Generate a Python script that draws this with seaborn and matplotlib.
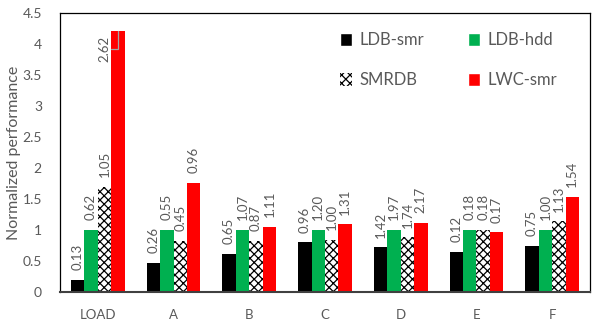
import seaborn as sns
import pandas as pd
import numpy as np
import matplotlib.pyplot as plt
from matplotlib.patches import Patch

sns.set_style("white")
plt.rcParams['font.family'] = ['Lato', 'DejaVu Sans']
plt.rcParams['hatch.linewidth'] = 0.9

# data
workloads = ['LOAD', 'A', 'B', 'C', 'D', 'E', 'F']
systems = ['LDB-smr', 'LDB-hdd', 'SMRDB', 'LWC-smr']
ldb_smr = [0.20, 0.47, 0.61, 0.80, 0.72, 0.65, 0.74]
ldb_hdd = [1.00, 1.00, 1.00, 1.00, 1.00, 1.00, 1.00]
smrdb = [1.70, 0.83, 0.82, 0.84, 0.88, 1.00, 1.14]
lwc_smr = [4.21, 1.76, 1.05, 1.09, 1.11, 0.96, 1.53]
# numbers printed above the bars
lbl_ldb_smr = ['0.13', '0.26', '0.65', '0.96', '1.42', '0.12', '0.75']
lbl_ldb_hdd = ['0.62', '0.55', '1.07', '1.20', '1.97', '0.18', '1.00']
lbl_smrdb = ['1.05', '0.45', '0.87', '1.00', '1.74', '0.18', '1.13']
lbl_lwc_smr = ['2.62', '0.96', '1.11', '1.31', '2.17', '0.17', '1.54']

colors = ['#000000', '#00B050', '#FFFFFF', '#FF0000']
grey = '#595959'

df = pd.DataFrame({
    'workload': workloads * 4,
    'system': np.repeat(systems, len(workloads)),
    'value': ldb_smr + ldb_hdd + smrdb + lwc_smr,
})
labels = [lbl_ldb_smr, lbl_ldb_hdd, lbl_smrdb, lbl_lwc_smr]

fig = plt.figure(figsize=(5.95, 3.29), dpi=100)
ax = fig.add_axes([0.1008, 0.1125, 0.8908, 0.848])

sns.barplot(data=df, x='workload', y='value', hue='system', order=workloads,
            hue_order=systems, palette=colors, saturation=1, width=0.71, gap=0,
            linewidth=0, legend=False, ax=ax)

# cross hatch for SMRDB
for bar in ax.containers[2]:
    bar.set_hatch('xxxx')
    bar.set_edgecolor('black')
    bar.set_linewidth(0)

# rotated value labels
for ci, cont in enumerate(ax.containers):
    for bi, bar in enumerate(cont):
        cx = bar.get_x() + bar.get_width() / 2
        h = bar.get_height()
        txt = labels[ci][bi]
        if h > 4.0:
            # too tall: put label beside the bar with a leader line
            lx = cx - bar.get_width()
            ax.text(lx, 3.71, txt, rotation=90, ha='center', va='bottom',
                    fontsize=9.5, color=grey)
            ax.plot([bar.get_x(), cx, cx], [3.92, 3.92, h], color='#a6a6a6',
                    lw=0.9, solid_joinstyle='miter')
        else:
            ax.annotate(txt, (cx, h), xytext=(0, 7), textcoords='offset points',
                        rotation=90, ha='center', va='bottom', fontsize=9.5,
                        color=grey)

ax.set_ylim(0, 4.5)
ax.set_yticks(np.arange(0, 4.51, 0.5))
ax.set_yticklabels(['0', '0.5', '1', '1.5', '2', '2.5', '3', '3.5', '4', '4.5'])
ax.set_xlim(-0.5, len(workloads) - 0.5)
ax.set_xlabel('')
ax.set_ylabel('Normalized performance', fontsize=11.5, color=grey)
ax.yaxis.set_label_coords(-0.073, 0.5)
ax.tick_params(axis='y', direction='in', length=4, width=0.8, colors='black',
               labelcolor=grey, labelsize=10, pad=13)
ax.tick_params(axis='x', length=0, labelcolor=grey, labelsize=9.5, pad=12)
for s in ax.spines.values():
    s.set_visible(True)
    s.set_color('black')
    s.set_linewidth(0.9)
ax.spines['bottom'].set_color('#404040')
ax.spines['bottom'].set_linewidth(1.5)

handles = [Patch(facecolor=colors[0], label=systems[0]),
           Patch(facecolor='white', hatch='xxxx', edgecolor='black', lw=0, label=systems[2]),
           Patch(facecolor=colors[1], label=systems[1]),
           Patch(facecolor=colors[3], label=systems[3])]
leg = ax.legend(handles=handles, ncol=2, loc='upper left', bbox_to_anchor=(0.5, 0.985),
                frameon=False, fontsize=12, handlelength=0.75, handleheight=0.8,
                handletextpad=0.45, labelspacing=1.45, columnspacing=2.6)
for t in leg.get_texts():
    t.set_color(grey)

fig.savefig('out.png', dpi=100)
